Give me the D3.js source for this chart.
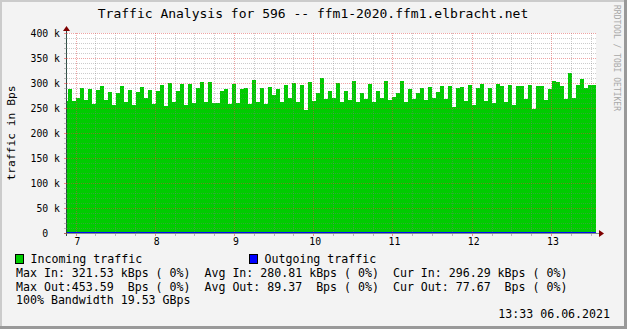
<!DOCTYPE html>
<html>
<head>
<meta charset="utf-8">
<script src="https://cdn.jsdelivr.net/npm/d3@7/dist/d3.min.js"></script>
<style>
body { margin: 0; background: #f3f3f3; }
text { font-family: "DejaVu Sans Mono", monospace; white-space: pre; }
</style>
</head>
<body>
<script>
var width = 627,
    height = 329;

// plot area
var plotLeft = 67, plotRight = 596,
    plotTop = 33, plotBottom = 233;

// incoming traffic, kBps, one value per consolidated step
var inTraffic = [
  264, 288, 264, 270, 290, 266, 288, 258, 286, 294, 266, 282, 256, 280, 294, 262,
  286, 256, 282, 292, 270, 286, 258, 284, 296, 254, 300, 262, 284, 298, 256, 298,
  260, 290, 302, 262, 302, 260, 260, 284, 288, 258, 298, 260, 288, 290, 258, 306,
  262, 290, 258, 292, 276, 288, 262, 296, 270, 300, 262, 296, 246, 302, 264, 280,
  310, 268, 284, 270, 300, 262, 284, 266, 304, 262, 280, 268, 298, 262, 284, 270,
  304, 266, 272, 280, 304, 262, 288, 268, 280, 290, 266, 292, 270, 282, 294, 268,
  294, 252, 290, 292, 264, 296, 256, 290, 298, 264, 290, 260, 298, 294, 262, 296,
  256, 294, 294, 268, 296, 248, 294, 294, 266, 288, 304, 302, 294, 268, 320, 270,
  296, 308, 290, 296, 296
];
// outgoing traffic, kBps (tiny, sits on the zero line)
var outTraffic = [
  0.08, 0.09, 0.07, 0.10, 0.08, 0.12, 0.09, 0.08, 0.07, 0.09, 0.11, 0.08, 0.09, 0.10, 0.07, 0.08,
  0.09, 0.08, 0.45, 0.09, 0.08, 0.07, 0.09, 0.10, 0.08, 0.09, 0.07, 0.08, 0.09, 0.11, 0.08, 0.09,
  0.10, 0.08, 0.07, 0.09, 0.08, 0.09, 0.10, 0.08, 0.07, 0.09, 0.08, 0.12, 0.09, 0.08, 0.09, 0.07,
  0.08, 0.09, 0.10, 0.08, 0.09, 0.07, 0.08, 0.09, 0.10, 0.08, 0.09, 0.07, 0.08, 0.09, 0.11, 0.08,
  0.09, 0.08, 0.07, 0.09, 0.10, 0.08, 0.09, 0.07, 0.08, 0.09, 0.08, 0.10, 0.09, 0.08, 0.07, 0.09,
  0.08, 0.09, 0.10, 0.08, 0.07, 0.09, 0.08, 0.09, 0.11, 0.08, 0.09, 0.07, 0.08, 0.09, 0.10, 0.08,
  0.09, 0.07, 0.08, 0.09, 0.08, 0.10, 0.09, 0.08, 0.07, 0.09, 0.08, 0.09, 0.10, 0.08, 0.07, 0.09,
  0.08, 0.09, 0.11, 0.08, 0.09, 0.07, 0.08, 0.09, 0.10, 0.08, 0.09, 0.07, 0.08, 0.09, 0.08, 0.10,
  0.09, 0.08, 0.07, 0.08, 0.08
];

// time of first step (day of month) and step length (days)
var startDay = 6.855,
    stepDays = 0.05047;

var dayTicks = [7, 8, 9, 10, 11, 12, 13];
var yTicks = [0, 50, 100, 150, 200, 250, 300, 350, 400];
var yTickLabels = ["0  ", "50 k", "100 k", "150 k", "200 k", "250 k", "300 k", "350 k", "400 k"];

var title = "Traffic Analysis for 596 -- ffm1-2020.ffm1.elbracht.net";
var legendItems = [
  {label: "Incoming traffic", color: "#00cc00"},
  {label: "Outgoing traffic", color: "#0000ff"}
];
var statLines = [
  "Max In: 321.53 kBps ( 0%)  Avg In: 280.81 kBps ( 0%)  Cur In: 296.29 kBps ( 0%)",
  "Max Out:453.59  Bps ( 0%)  Avg Out: 89.37  Bps ( 0%)  Cur Out: 77.67  Bps ( 0%)",
  "100% Bandwidth 19.53 GBps"
];
var stamp = "13:33 06.06.2021";

//scales
var x = d3.scaleLinear().domain([6.8927, 13.568]).range([plotLeft, plotRight]);
var y = d3.scaleLinear().domain([0, 400]).range([plotBottom, plotTop]);

var svg = d3.select("body").append("svg")
    .attr("width", width)
    .attr("height", height);

// background and 3d frame
svg.append("rect").attr("width", width).attr("height", height).attr("fill", "#f3f3f3");
svg.append("rect").attr("x", 0).attr("y", 0).attr("width", width).attr("height", 2).attr("fill", "#cbcbcb");
svg.append("rect").attr("x", 0).attr("y", 0).attr("width", 2).attr("height", height).attr("fill", "#cbcbcb");
svg.append("rect").attr("x", 0).attr("y", height - 3).attr("width", width).attr("height", 3).attr("fill", "#999");
svg.append("rect").attr("x", width - 3).attr("y", 0).attr("width", 3).attr("height", height).attr("fill", "#999");

// canvas
svg.append("rect")
    .attr("x", plotLeft).attr("y", plotTop)
    .attr("width", plotRight - plotLeft).attr("height", plotBottom - plotTop)
    .attr("fill", "#ffffff");

svg.append("clipPath").attr("id", "clip")
  .append("rect")
    .attr("x", plotLeft).attr("y", plotTop - 1)
    .attr("width", plotRight - plotLeft).attr("height", plotBottom - plotTop + 1);

function stepData(arr) {
    var pts = arr.map(function(v, i) { return {t: startDay + i * stepDays, v: v}; });
    pts.push({t: startDay + arr.length * stepDays, v: arr[arr.length - 1]});
    return pts;
}

var area = d3.area()
    .curve(d3.curveStepAfter)
    .x(function(d) { return x(d.t); })
    .y0(y(0))
    .y1(function(d) { return y(d.v); });

var line = d3.line()
    .curve(d3.curveStepAfter)
    .x(function(d) { return x(d.t); })
    .y(function(d) { return y(d.v) - 0.5; });

var g_data = svg.append("g").attr("clip-path", "url(#clip)");
g_data.append("path")
    .attr("d", area(stepData(inTraffic)))
    .attr("fill", "#00cc00")
    .attr("shape-rendering", "crispEdges");

// ================ Grid ================
var minorY = d3.range(0, 401, 10).filter(function(v) { return v % 50 !== 0; });
var minorX = d3.range(7, 13.6, 0.25).filter(function(v) { return v % 1 !== 0; });

var g_grid = svg.append("g").attr("shape-rendering", "crispEdges");
g_grid.selectAll(".ymin").data(minorY).enter().append("line")
    .attr("x1", plotLeft).attr("x2", plotRight)
    .attr("y1", function(d) { return Math.round(y(d)) + 0.5; })
    .attr("y2", function(d) { return Math.round(y(d)) + 0.5; })
    .attr("stroke", "rgba(128,128,128,0.4)")
    .attr("stroke-dasharray", "1,1");
g_grid.selectAll(".xmin").data(minorX).enter().append("line")
    .attr("y1", plotTop).attr("y2", plotBottom)
    .attr("x1", function(d) { return Math.round(x(d)) + 0.5; })
    .attr("x2", function(d) { return Math.round(x(d)) + 0.5; })
    .attr("stroke", "rgba(128,128,128,0.4)")
    .attr("stroke-dasharray", "1,1");
g_grid.selectAll(".ymaj").data(yTicks.slice(1)).enter().append("line")
    .attr("x1", plotLeft).attr("x2", plotRight)
    .attr("y1", function(d) { return Math.round(y(d)) + 0.5; })
    .attr("y2", function(d) { return Math.round(y(d)) + 0.5; })
    .attr("stroke", "rgba(222,72,72,0.5)")
    .attr("stroke-dasharray", "1,1");
g_grid.selectAll(".xmaj").data(dayTicks).enter().append("line")
    .attr("y1", plotTop).attr("y2", plotBottom)
    .attr("x1", function(d) { return Math.round(x(d)) + 0.5; })
    .attr("x2", function(d) { return Math.round(x(d)) + 0.5; })
    .attr("stroke", "rgba(222,72,72,0.5)")
    .attr("stroke-dasharray", "1,1");

// outgoing traffic line on top
g_data.append("path")
    .attr("d", line(stepData(outTraffic)))
    .attr("fill", "none")
    .attr("stroke", "#0000ff")
    .attr("stroke-width", 1);

// ================ Axes ================
var axisColor = "#2c4d43", arrowColor = "#7f0000";
var g_axis = svg.append("g").attr("shape-rendering", "crispEdges");
g_axis.append("line")
    .attr("x1", plotLeft - 0.5).attr("x2", plotLeft - 0.5)
    .attr("y1", plotBottom + 3).attr("y2", plotTop - 5)
    .attr("stroke", axisColor);
g_axis.append("line")
    .attr("x1", plotLeft - 3).attr("x2", plotRight + 4)
    .attr("y1", plotBottom + 0.5).attr("y2", plotBottom + 0.5)
    .attr("stroke", axisColor).attr("stroke-opacity", 0.6);

// ticks on the axes
g_axis.selectAll(".ytick").data(minorY.concat(yTicks)).enter().append("line")
    .attr("x1", plotLeft - 3).attr("x2", plotLeft)
    .attr("y1", function(d) { return Math.round(y(d)) + 0.5; })
    .attr("y2", function(d) { return Math.round(y(d)) + 0.5; })
    .attr("stroke", function(d) { return d % 50 === 0 ? "rgba(222,72,72,0.6)" : "rgba(128,128,128,0.5)"; });
g_axis.selectAll(".xtick").data(minorX.concat(dayTicks)).enter().append("line")
    .attr("y1", plotBottom + 1).attr("y2", plotBottom + 3)
    .attr("x1", function(d) { return Math.round(x(d)) + 0.5; })
    .attr("x2", function(d) { return Math.round(x(d)) + 0.5; })
    .attr("stroke", function(d) { return d % 1 === 0 ? "rgba(222,72,72,0.6)" : "rgba(128,128,128,0.5)"; });

// arrows
svg.append("path")
    .attr("d", "M" + (plotLeft - 4) + "," + (plotTop - 2) + " L" + (plotLeft - 0.5) + "," + (plotTop - 7) + " L" + (plotLeft + 3) + "," + (plotTop - 2) + " Z")
    .attr("fill", arrowColor);
svg.append("path")
    .attr("d", "M" + (plotRight + 3) + "," + (plotBottom - 3) + " L" + (plotRight + 8) + "," + (plotBottom + 0.5) + " L" + (plotRight + 3) + "," + (plotBottom + 4) + " Z")
    .attr("fill", arrowColor);

// tick labels
svg.selectAll(".ylab").data(yTicks).enter().append("text")
    .attr("x", 60)
    .attr("y", function(d) { return y(d) + 3.5; })
    .attr("text-anchor", "end")
    .attr("font-size", "9.8px")
    .attr("fill", "#000")
    .text(function(d, i) { return yTickLabels[i]; });

svg.selectAll(".xlab").data(dayTicks).enter().append("text")
    .attr("x", function(d) { return x(d) + 2; })
    .attr("y", 245)
    .attr("text-anchor", "middle")
    .attr("font-size", "9.8px")
    .attr("fill", "#000")
    .text(function(d) { return d; });

// title
svg.append("text")
    .attr("x", 313).attr("y", 17.5)
    .attr("text-anchor", "middle")
    .attr("font-size", "13px")
    .attr("fill", "#000")
    .text(title);

// y axis title
svg.append("text")
    .attr("transform", "translate(14.5,133) rotate(-90)")
    .attr("text-anchor", "middle")
    .attr("font-size", "11.3px")
    .attr("fill", "#000")
    .text("traffic in Bps");

// watermark
svg.append("text")
    .attr("transform", "translate(614,5) rotate(90)")
    .attr("font-size", "8px")
    .attr("fill", "#a8a8a8")
    .text("RRDTOOL / TOBI OETIKER");

// ================ Legend ================
var legendX = [15, 249];
var g_leg = svg.append("g");
legendItems.forEach(function(item, i) {
    g_leg.append("rect")
        .attr("x", legendX[i] + 0.5).attr("y", 254.5)
        .attr("width", 8).attr("height", 9)
        .attr("fill", item.color)
        .attr("stroke", "#000");
    g_leg.append("text")
        .attr("x", legendX[i] + 15.5).attr("y", 263)
        .attr("font-size", "11.6px")
        .attr("fill", "#000")
        .text(item.label);
});

statLines.forEach(function(s, i) {
    svg.append("text")
        .attr("x", 16).attr("y", 277 + i * 13.5)
        .attr("font-size", "11.6px")
        .attr("fill", "#000")
        .text(s);
});

svg.append("text")
    .attr("x", 610).attr("y", 318)
    .attr("text-anchor", "end")
    .attr("font-size", "11.6px")
    .attr("fill", "#000")
    .text(stamp);
</script>
</body>
</html>
